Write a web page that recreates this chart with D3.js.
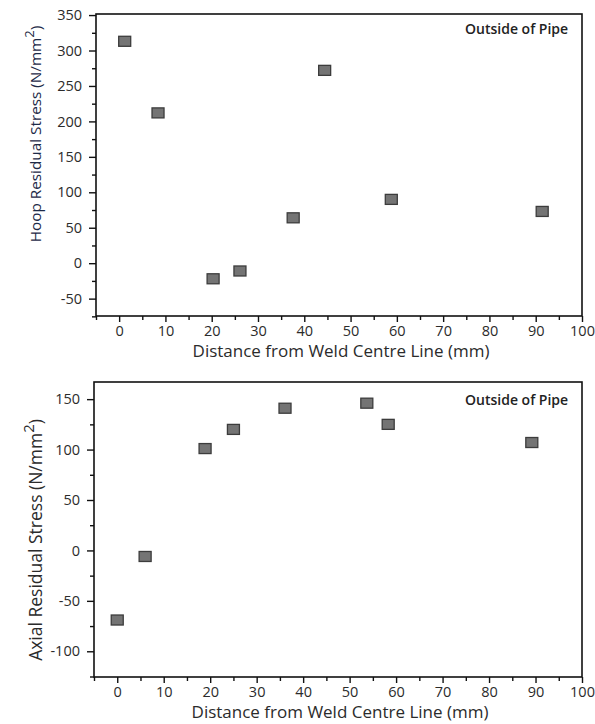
<!DOCTYPE html>
<html><head><meta charset="utf-8">
<script src="https://cdn.jsdelivr.net/npm/d3@7"></script>
<style>
body{margin:0;background:#fff;}
svg{display:block;font-family:"Open Sans",sans-serif;}
</style></head>
<body><svg id="c" width="595" height="724"></svg>
<script>
// Hoop (top) chart data
const hoopDistance = [1.2, 8.4, 20.3, 26.1, 37.6, 44.4, 58.8, 91.4];
const hoopStress   = [313, 212, -22, -11, 64, 272, 90, 73];
// Axial (bottom) chart data
const axialDistance = [0, 6, 18.9, 25, 36.1, 53.7, 58.3, 89.2];
const axialStress   = [-69, -6, 101, 120, 141, 146, 125, 107];
// Tick labels
const xTicks = [0,10,20,30,40,50,60,70,80,90,100];
const xMinor = [-5,5,15,25,35,45,55,65,75,85,95];
const hoopYTicks = [-50,0,50,100,150,200,250,300,350];
const hoopYMinor = [-75,-25,25,75,125,175,225,275,325];
const axialYTicks = [-100,-50,0,50,100,150];
const axialYMinor = [-125,-75,-25,25,75,125];
const annotation = "Outside of Pipe";
const xTitle = "Distance from Weld Centre Line (mm)";

const svg = d3.select("#c");
const fmt = d => String(d);

function panel(cfg){
  const g = svg.append("g");
  const x = d3.scaleLinear().domain([-5,100]).range([cfg.left, 582]);
  const y = d3.scaleLinear().domain(cfg.yDomain).range([cfg.bottom, cfg.top]);

  const xa = g.append("g").attr("transform",`translate(0,${cfg.bottom})`)
    .call(d3.axisBottom(x).tickValues(xTicks).tickSize(6).tickPadding(4).tickFormat(fmt));
  const xm = g.append("g").attr("transform",`translate(0,${cfg.bottom})`)
    .call(d3.axisBottom(x).tickValues(xMinor).tickSize(4).tickFormat(""));
  const ya = g.append("g").attr("transform",`translate(${cfg.left},0)`)
    .call(d3.axisLeft(y).tickValues(cfg.yTicks).tickSize(7).tickPadding(7).tickFormat(fmt));
  const ym = g.append("g").attr("transform",`translate(${cfg.left},0)`)
    .call(d3.axisLeft(y).tickValues(cfg.yMinor).tickSize(4).tickFormat(""));
  [xa,xm,ya,ym].forEach(a=>{
    a.select(".domain").remove();
    a.selectAll("line").attr("stroke","#111").attr("stroke-width",1.4);
    a.selectAll("text").attr("fill","#2b2b2b").style("font-size","14.5px").style("font-family","Open Sans");
  });

  g.append("rect").attr("x",cfg.left).attr("y",cfg.top)
    .attr("width",582-cfg.left).attr("height",cfg.bottom-cfg.top)
    .attr("fill","none").attr("stroke","#111").attr("stroke-width",1.6);

  g.selectAll("rect.m").data(cfg.xs.map((d,i)=>[d,cfg.ys[i]])).enter().append("rect")
    .attr("class","m")
    .attr("x",d=>x(d[0])-6).attr("y",d=>y(d[1])-5)
    .attr("width",12).attr("height",10)
    .attr("fill","#747474").attr("stroke","#3c3c3c").attr("stroke-width",1.3);

  g.append("text").attr("x",465).attr("y",cfg.annY)
    .attr("fill","#222").style("font-size","14px").style("font-weight","600")
    .text(annotation);

  g.append("text").attr("x",(cfg.left+582)/2+2).attr("y",cfg.xTitleY)
    .attr("text-anchor","middle").attr("fill","#2b2b2b").style("font-size","17px")
    .text(xTitle);

  const yt = g.append("text")
    .attr("transform",`translate(${cfg.yTitleX},${cfg.yTitleY}) rotate(-90)`)
    .attr("text-anchor","middle").attr("fill",cfg.yTitleColor).style("font-size",cfg.yTitleSize+"px");
  yt.append("tspan").text(cfg.yTitle);
  yt.append("tspan").attr("dy",-cfg.yTitleSize*0.45).style("font-size",(cfg.yTitleSize*0.85)+"px").text("2");
  yt.append("tspan").attr("dy",cfg.yTitleSize*0.45).text(")");
}

panel({
  left:96, top:14, bottom:316, yDomain:[-74.5,351.5],
  yTicks:hoopYTicks, yMinor:hoopYMinor,
  xs:hoopDistance, ys:hoopStress, annY:34,
  xTitleY:357, yTitleX:41, yTitleY:134, yTitleColor:"#1d2a47", yTitleSize:15.3,
  yTitle:"Hoop Residual Stress (N/mm"
});
panel({
  left:94, top:382, bottom:677, yDomain:[-125.5,167],
  yTicks:axialYTicks, yMinor:axialYMinor,
  xs:axialDistance, ys:axialStress, annY:405,
  xTitleY:718, yTitleX:42, yTitleY:540, yTitleColor:"#2b2b2b", yTitleSize:17.5,
  yTitle:"Axial Residual Stress  (N/mm"
});
</script></body></html>
